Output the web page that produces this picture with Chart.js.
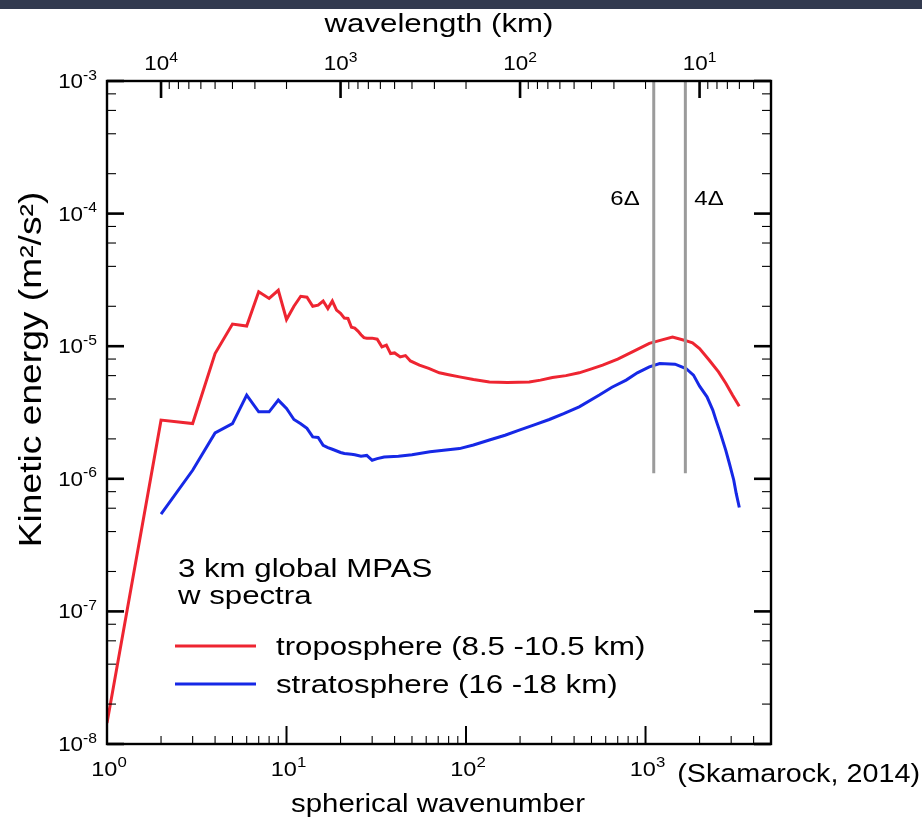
<!DOCTYPE html>
<html>
<head>
<meta charset="utf-8">
<title>w spectra</title>
<script src="https://cdn.jsdelivr.net/npm/chart.js@4.4.1/dist/chart.umd.min.js"></script>
<style>
  html, body { margin: 0; padding: 0; background: #fff; }
  #wrap { position: relative; width: 922px; height: 820px; }
  #topbar { position: absolute; left: 0; top: 0; width: 922px; height: 9px; background: #323a4f; }
</style>
</head>
<body>
<div id="wrap">
  <canvas id="spectra" width="922" height="820"></canvas>
  <div id="topbar"></div>
</div>
<script>
// troposphere (8.5 - 10.5 km)
const tropoWavenumber = [1, 2, 3, 4, 5, 6, 7, 8, 9, 10, 11, 12, 13, 14, 15, 16, 17, 18, 19, 20,
  21, 22, 23, 24, 25, 26, 27, 28, 30, 32, 34, 36, 38, 40, 43, 46, 49, 55, 62, 71, 80, 92, 110,
  135, 170, 225, 260, 303, 360, 427, 500, 577, 700, 850, 1050, 1250, 1414, 1642, 1827, 2000,
  2266, 2550, 2805, 3050, 3327];
const tropoEnergy = [1.44e-8, 2.77e-6, 2.61e-6, 8.8e-6, 1.47e-5, 1.42e-5, 2.57e-5, 2.29e-5, 2.64e-5, 1.59e-5,
  2.0e-5, 2.38e-5, 2.34e-5, 2.0e-5, 2.04e-5, 2.19e-5, 1.92e-5, 2.19e-5, 1.87e-5, 1.77e-5,
  1.63e-5, 1.62e-5, 1.39e-5, 1.37e-5, 1.30e-5, 1.22e-5, 1.16e-5, 1.15e-5, 1.15e-5, 1.13e-5,
  9.9e-6, 1.02e-5, 8.8e-6, 8.9e-6, 8.3e-6, 8.5e-6, 7.74e-6, 7.2e-6, 6.8e-6, 6.3e-6, 6.1e-6,
  5.87e-6, 5.6e-6, 5.38e-6, 5.32e-6, 5.38e-6, 5.55e-6, 5.81e-6, 6.0e-6, 6.3e-6, 6.75e-6,
  7.2e-6, 8.0e-6, 9.1e-6, 1.05e-5, 1.12e-5, 1.17e-5, 1.11e-5, 1.06e-5, 9.6e-6,
  7.84e-6, 6.4e-6, 5.24e-6, 4.28e-6, 3.53e-6];

// stratosphere (16 - 18 km)
const stratoWavenumber = [2, 3, 4, 5, 6, 7, 8, 9, 10, 11, 12, 13, 14, 15, 16, 17, 18, 20, 21, 23,
  24, 26, 28, 30, 32, 35, 42, 50, 63, 75, 92, 110, 135, 165, 198, 240, 291, 350, 427, 553, 650,
  780, 900, 1050, 1200, 1460, 1680, 1850, 2000, 2200, 2370, 2470, 2600, 2800, 2930, 3100, 3200, 3330];
const stratoEnergy = [5.42e-7, 1.16e-6, 2.22e-6, 2.61e-6, 4.28e-6, 3.2e-6, 3.2e-6, 3.92e-6, 3.39e-6, 2.8e-6,
  2.6e-6, 2.4e-6, 2.07e-6, 2.05e-6, 1.79e-6, 1.72e-6, 1.67e-6, 1.58e-6, 1.55e-6, 1.53e-6,
  1.52e-6, 1.48e-6, 1.5e-6, 1.38e-6, 1.42e-6, 1.46e-6, 1.48e-6, 1.52e-6, 1.6e-6, 1.64e-6,
  1.69e-6, 1.8e-6, 1.96e-6, 2.13e-6, 2.33e-6, 2.55e-6, 2.8e-6, 3.1e-6, 3.49e-6, 4.28e-6, 4.9e-6,
  5.55e-6, 6.3e-6, 6.98e-6, 7.41e-6, 7.32e-6, 6.79e-6, 6.05e-6, 5.0e-6, 4.15e-6, 3.3e-6, 2.77e-6,
  2.26e-6, 1.64e-6, 1.31e-6, 9.8e-7, 7.76e-7, 6.08e-7];

// 6 and 4 grid lengths of the 3 km mesh
const gridSpacing = 3;
const deltaMultiples = [6, 4];
const deltaLabels = ["6\u0394", "4\u0394"];
const markerEnergyRange = [1.1e-6, 1e-3];
const halfCircumference = 20000; // km, wavelength = 20000 / n

// axes
const wavenumberRange = [1, 5000];
const energyRange = [1e-8, 1e-3];
const wavenumberTicks = [1, 10, 100, 1000];
const wavenumberExponents = ["0", "1", "2", "3"];
const wavelengthTicks = [10, 100, 1000, 10000];
const wavelengthExponents = ["1", "2", "3", "4"];
const energyTicks = [1e-8, 1e-7, 1e-6, 1e-5, 1e-4, 1e-3];
const energyExponents = ["-8", "-7", "-6", "-5", "-4", "-3"];

const seriesNames = ["troposphere (8.5 -10.5 km)", "stratosphere (16 -18 km)"];
const seriesColors = ["#ee2531", "#1628e6"];
const noteLines = ["3 km global MPAS", "w spectra"];

const FONT = "'Liberation Sans', Arial, Helvetica, sans-serif";
const SX = 1.2; // the original lettering is wide

function sText(ctx, str, x, y, size, align, sx) {
	sx = sx || SX;
	ctx.save();
	ctx.font = size + "px " + FONT;
	const w = ctx.measureText(str).width * sx;
	let x0 = x;
	if (align === "center") x0 = x - w / 2;
	else if (align === "right") x0 = x - w;
	ctx.translate(x0, y);
	ctx.scale(sx, 1);
	ctx.textAlign = "left";
	ctx.textBaseline = "alphabetic";
	ctx.fillStyle = "#000";
	ctx.fillText(str, 0, 0);
	ctx.restore();
	return w;
}

function powText(ctx, base, exp, x, y, size, align) {
	const supSize = Math.round(size * 0.7);
	const sx = 1.12;
	ctx.font = size + "px " + FONT;
	const wb = ctx.measureText(base).width * sx;
	ctx.font = supSize + "px " + FONT;
	const we = ctx.measureText(exp).width * sx;
	const total = wb + we;
	let x0 = x;
	if (align === "center") x0 = x - total / 2;
	else if (align === "right") x0 = x - total;
	sText(ctx, base, x0, y, size, "left", sx);
	sText(ctx, exp, x0 + wb, y - size * 0.42, supSize, "left", sx);
}

function tick(ctx, x1, y1, x2, y2, width) {
	ctx.lineWidth = width;
	ctx.beginPath();
	ctx.moveTo(x1, y1);
	ctx.lineTo(x2, y2);
	ctx.stroke();
}

const axesPlugin = {
	id: "axesPlugin",
	afterDraw(chart) {
		const ctx = chart.ctx;
		const a = chart.chartArea;
		const xs = chart.scales.x, ys = chart.scales.y, xt = chart.scales.x2;
		ctx.save();
		ctx.strokeStyle = "#000";
		ctx.lineCap = "butt";

		// y ticks, left and right, pointing inward
		for (let k = -8; k <= -3; k++) {
			[1, 2, 4, 6, 8].forEach(m => {
				const v = m * Math.pow(10, k);
				if (v > energyRange[1] * 1.0001) return;
				const py = ys.getPixelForValue(v);
				const major = m === 1;
				const len = major ? 17 : 9;
				tick(ctx, a.left, py, a.left + len, py, major ? 2.6 : 1.1);
				tick(ctx, a.right, py, a.right - len, py, major ? 2.6 : 1.1);
			});
		}
		// bottom ticks (wavenumber)
		for (let k = 0; k <= 3; k++) {
			for (let m = 1; m <= 9; m++) {
				const n = m * Math.pow(10, k);
				if (n > wavenumberRange[1]) continue;
				const px = xs.getPixelForValue(n);
				const major = m === 1;
				tick(ctx, px, a.bottom, px, a.bottom - (major ? 18 : 8), major ? 2 : 1.1);
			}
		}
		// top ticks (wavelength)
		for (let k = 0; k <= 4; k++) {
			for (let m = 1; m <= 9; m++) {
				const l = m * Math.pow(10, k);
				if (l < xt.min || l > xt.max) continue;
				const px = xt.getPixelForValue(l);
				const major = m === 1;
				tick(ctx, px, a.top, px, a.top + (major ? 17 : 8), major ? 2.6 : 1.1);
			}
		}

		// frame
		ctx.lineWidth = 2.4;
		ctx.strokeRect(a.left, a.top, a.right - a.left, a.bottom - a.top);

		// tick labels
		energyTicks.forEach((v, i) => {
			powText(ctx, "10", energyExponents[i], a.left - 10, ys.getPixelForValue(v) + 7, 20, "right");
		});
		wavenumberTicks.forEach((n, i) => {
			powText(ctx, "10", wavenumberExponents[i], xs.getPixelForValue(n) + 2, a.bottom + 32, 21, "center");
		});
		wavelengthTicks.forEach((l, i) => {
			powText(ctx, "10", wavelengthExponents[i], xt.getPixelForValue(l), a.top - 11, 20, "center");
		});

		// axis titles
		sText(ctx, "wavelength (km)", (a.left + a.right) / 2, 32, 26, "center");
		sText(ctx, "spherical wavenumber", 438, 812, 26, "center", 1.13);
		ctx.save();
		ctx.translate(41, (a.top + a.bottom) / 2 - 43);
		ctx.rotate(-Math.PI / 2);
		sText(ctx, "Kinetic energy (m\u00b2/s\u00b2)", 0, 0, 31, "center");
		ctx.restore();
		sText(ctx, "(Skamarock, 2014)", 920, 782, 25, "right", 1.15);

		// 6Δ / 4Δ labels beside the marker lines
		deltaMultiples.forEach((d, i) => {
			const px = xs.getPixelForValue(halfCircumference / (d * gridSpacing));
			if (i === 0) sText(ctx, deltaLabels[i], px - 14, 205, 20, "right");
			else sText(ctx, deltaLabels[i], px + 9, 205, 20, "left");
		});

		// notes and legend inside the plot
		sText(ctx, noteLines[0], 178, 577, 26, "left");
		sText(ctx, noteLines[1], 178, 604, 26, "left");
		seriesNames.forEach((name, i) => {
			const ly = 646 + i * 38;
			ctx.strokeStyle = seriesColors[i];
			tick(ctx, 175, ly, 256, ly, 3);
			sText(ctx, name, 276, ly + 9, 26, "left");
		});
		ctx.restore();
	}
};

const markerSets = deltaMultiples.map(d => {
	const n = halfCircumference / (d * gridSpacing);
	return {
		label: d + "\u0394",
		data: markerEnergyRange.map(v => ({ x: n, y: v })),
		borderColor: "#9b9b9b",
		borderWidth: 3,
		pointRadius: 0
	};
});

const ctx = document.getElementById("spectra").getContext("2d");
new Chart(ctx, {
	type: "line",
	data: {
		datasets: [
			...markerSets,
			{
				label: seriesNames[0],
				data: tropoWavenumber.map((n, i) => ({ x: n, y: tropoEnergy[i] })),
				borderColor: seriesColors[0],
				borderWidth: 3,
				pointRadius: 0,
				tension: 0
			},
			{
				label: seriesNames[1],
				data: stratoWavenumber.map((n, i) => ({ x: n, y: stratoEnergy[i] })),
				borderColor: seriesColors[1],
				borderWidth: 3,
				pointRadius: 0,
				tension: 0
			}
		]
	},
	options: {
		responsive: false,
		animation: false,
		devicePixelRatio: 1,
		layout: { padding: { left: 107, top: 81, right: 151, bottom: 76 } },
		plugins: { legend: { display: false }, tooltip: { enabled: false } },
		scales: {
			x: { type: "logarithmic", min: wavenumberRange[0], max: wavenumberRange[1], display: false },
			x2: { type: "logarithmic", position: "top", reverse: true,
				min: halfCircumference / wavenumberRange[1], max: halfCircumference / wavenumberRange[0], display: false },
			y: { type: "logarithmic", min: energyRange[0], max: energyRange[1], display: false }
		}
	},
	plugins: [axesPlugin]
});
</script>
</body>
</html>
